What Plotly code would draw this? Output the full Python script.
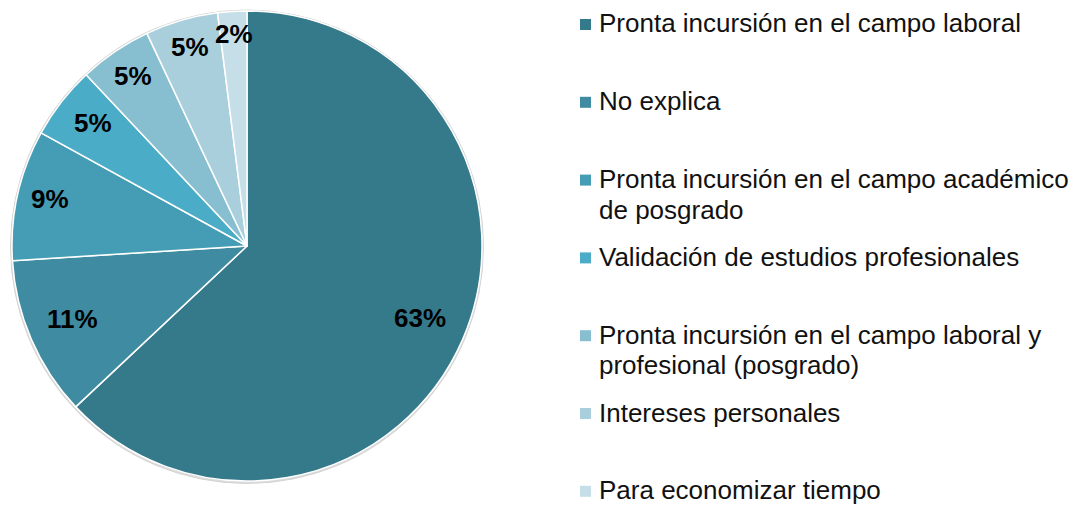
import math
import plotly.graph_objects as go

# ---- data ----
categories = [
    "Pronta incursión en el campo laboral",
    "No explica",
    "Pronta incursión en el campo académico de posgrado",
    "Validación de estudios profesionales",
    "Pronta incursión en el campo laboral y profesional (posgrado)",
    "Intereses personales",
    "Para economizar tiempo",
]
percentages = [63, 11, 9, 5, 5, 5, 2]
legend_lines = [
    ["Pronta incursión en el campo laboral"],
    ["No explica"],
    ["Pronta incursión en el campo académico", "de posgrado"],
    ["Validación de estudios profesionales"],
    ["Pronta incursión en el campo laboral y", "profesional (posgrado)"],
    ["Intereses personales"],
    ["Para economizar tiempo"],
]

# ---- style / layout ----
colors = ["#357A8B", "#3E8BA2", "#459DB5", "#4AACC6", "#87BFD1", "#AACFDC", "#C5DEE7"]
OFF = 8                     # page body margin
W, H = 1086 - OFF, 506 - OFF
CX, CY, R = 247, 246, 235   # pie centre and radius in screen pixels
label_r = [0.80, 0.81, 0.86, 0.83, 0.86, 0.87, 0.89]
LEG_X, LEG_Y0, LEG_PITCH, LINE_H = 585.5, 24.5, 77.8, 30.5
FONT = "Liberation Sans, Arial, sans-serif"


def px(x):
    return (x - OFF) / W


def py(y):
    return 1 - (y - OFF) / H


fig = go.Figure(go.Pie(
    labels=categories,
    values=percentages,
    sort=False,
    direction="clockwise",
    rotation=0,
    marker=dict(colors=colors, line=dict(color="white", width=1.5)),
    textinfo="none",
    hoverinfo="label+percent",
    showlegend=False,
    domain=dict(x=[px(CX - R), px(CX + R)], y=[py(CY + R), py(CY - R)]),
))

# subtle rim behind pie
fig.add_shape(type="circle", xref="paper", yref="paper", layer="below",
              x0=px(CX - R - 1.5), x1=px(CX + R + 1.5),
              y0=py(CY + R + 2.5), y1=py(CY - R - 1),
              line=dict(color="#d4d4d4", width=1), fillcolor="#dcdcdc")

total = sum(percentages)
cum = 0
for v, rf in zip(percentages, label_r):
    mid = (cum + v / 2) / total * 2 * math.pi
    cum += v
    lx = CX + rf * R * math.sin(mid)
    ly = CY - rf * R * math.cos(mid)
    fig.add_annotation(x=px(lx), y=py(ly), xref="paper", yref="paper",
                       text=f"<b>{round(v / total * 100)}%</b>", showarrow=False,
                       xanchor="center", yanchor="middle", yshift=3,
                       font=dict(family=FONT, size=26, color="black"))

# legend
for i, (lines, c) in enumerate(zip(legend_lines, colors)):
    yc = LEG_Y0 + i * LEG_PITCH
    fig.add_shape(type="rect", xref="paper", yref="paper",
                  x0=px(LEG_X - 5.5), x1=px(LEG_X + 5.5),
                  y0=py(yc + 5.5), y1=py(yc - 5.5),
                  line=dict(width=0), fillcolor=c)
    for k, line in enumerate(lines):
        fig.add_annotation(x=px(597), y=py(yc - 18 + k * LINE_H), xref="paper", yref="paper",
                           text=line, showarrow=False,
                           xanchor="left", yanchor="top", align="left",
                           font=dict(family=FONT, size=26, color="#111111"))

fig.update_layout(width=W, height=H, margin=dict(l=0, r=0, t=0, b=0),
                  paper_bgcolor="white", plot_bgcolor="white")
fig.write_html("out.html")
